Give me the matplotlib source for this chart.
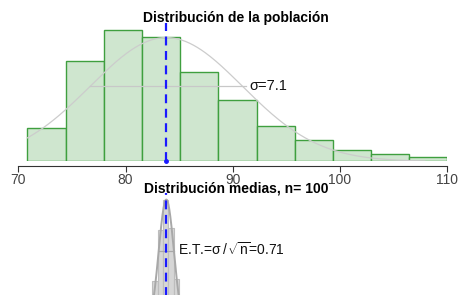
import numpy as np
import matplotlib
matplotlib.use("Agg")
import matplotlib.pyplot as plt

plt.rcParams['font.family'] = ['Liberation Sans', 'DejaVu Sans']
plt.rcParams['mathtext.fontset'] = 'custom'
plt.rcParams['mathtext.rm'] = 'Liberation Sans'
plt.rcParams['mathtext.it'] = 'Liberation Sans'
plt.rcParams['mathtext.sf'] = 'Liberation Sans'

# ---- data ----
pop_edges = [70.85, 74.41, 77.97, 81.53, 85.09, 88.65, 92.21, 95.77, 99.33, 102.89, 106.45, 110.01]
pop_density = [0.0150, 0.0457, 0.0598, 0.0565, 0.0404, 0.0277, 0.0162, 0.0095, 0.0053, 0.0032, 0.0018]
pop_mean = 83.8
pop_sd = 7.1
curve_range = [70.85, 107.9]

mean_edges = [81.5, 82.0, 82.5, 83.0, 83.5, 84.0, 84.5, 85.0, 85.5, 86.0]
mean_density = [0.02, 0.07, 0.21, 0.43, 0.56, 0.44, 0.22, 0.07, 0.02]
n_size = 100
se = 0.71

xticks = [70, 80, 90, 100, 110]
title_top = "Distribución de la población"
title_bottom = "Distribución medias, n= 100"

W, H = 460, 295
fig = plt.figure(figsize=(W / 100, H / 100), dpi=100)

def px_axes(left, top, right, bottom):
    return fig.add_axes([left / W, 1 - bottom / H, (right - left) / W, (bottom - top) / H])

# ---- top panel ----
ax = px_axes(18.3, 23, 447.3, 161.3)
ax.set_xlim(70, 110)
ax.set_ylim(0, 0.0628)
widths = np.diff(pop_edges)
ax.bar(pop_edges[:-1], pop_density, width=widths, align='edge',
       color='#cfe6cf', edgecolor='#3f9f3f', linewidth=1.0, zorder=2)
xs = np.linspace(curve_range[0], curve_range[1], 300)
ys = np.exp(-0.5 * ((xs - pop_mean) / pop_sd) ** 2) / (pop_sd * np.sqrt(2 * np.pi))
ax.plot(xs, ys, color='#cccccc', lw=0.9, zorder=3)
hs = np.exp(-0.5) / (pop_sd * np.sqrt(2 * np.pi))
ax.plot([pop_mean - pop_sd, pop_mean + pop_sd + 0.3], [hs, hs], color='#c8c8c8', lw=0.9, zorder=3)
ax.text(pop_mean + pop_sd + 0.6, hs, "σ=7.1", fontsize=10.5, va='center', ha='left', color='#111111')
ax.plot([pop_mean, pop_mean], [0, 0.0628], color='#1a1aff', lw=1.6, ls=(0, (4, 2.5)), zorder=4, clip_on=False)
ax.plot([pop_mean], [0], 'o', color='#1a1aff', ms=2.5, zorder=4, clip_on=False)
for s in ['top', 'right', 'left']:
    ax.spines[s].set_visible(False)
ax.spines['bottom'].set_position(('outward', 3.4))
ax.spines['bottom'].set_bounds(70, 110)
ax.spines['bottom'].set_color('#333333')
ax.set_yticks([])
ax.set_xticks(xticks)
ax.tick_params(axis='x', direction='out', length=4.5, width=0.8, color='#333333',
               labelsize=10, labelcolor='#444444', pad=0.3)
ax.patch.set_alpha(0)

# ---- bottom panel (cut off by figure edge) ----
ax2 = px_axes(18.3, 193, 447.3, 330.4)
ax2.set_xlim(70, 110)
ax2.set_ylim(0, 0.59)
w2 = np.diff(mean_edges)
ax2.bar(mean_edges[:-1], mean_density, width=w2, align='edge',
        color='#d6d6d6', edgecolor='#bdbdbd', linewidth=0.8, zorder=2)
xs2 = np.linspace(pop_mean - 4 * se, pop_mean + 4 * se, 300)
ys2 = np.exp(-0.5 * ((xs2 - pop_mean) / se) ** 2) / (se * np.sqrt(2 * np.pi))
ax2.plot(xs2, ys2, color='#a8a8a8', lw=1.4, zorder=3)
hs2 = np.exp(-0.5) / (se * np.sqrt(2 * np.pi))
ax2.plot([pop_mean - se, pop_mean + se], [hs2, hs2], color='#a8a8a8', lw=0.9, zorder=3)
ax2.text(pop_mean + se + 0.42, hs2 + 0.006, r"E.T.=σ$\,/\,\sqrt{\mathrm{n}}$=0.71", fontsize=10,
         va='center', ha='left', color='#111111')
ax2.plot([pop_mean, pop_mean], [0, 0.59], color='#1a1aff', lw=1.6, ls=(0, (4, 2.5)), zorder=4)
ax2.axis('off')

fig.text(236 / W, 1 - 18 / H, title_top, ha='center', va='center', fontsize=10, fontweight='bold')
fig.text(236 / W, 1 - 188.5 / H, title_bottom, ha='center', va='center', fontsize=10, fontweight='bold')

fig.savefig("out.png", dpi=100)
